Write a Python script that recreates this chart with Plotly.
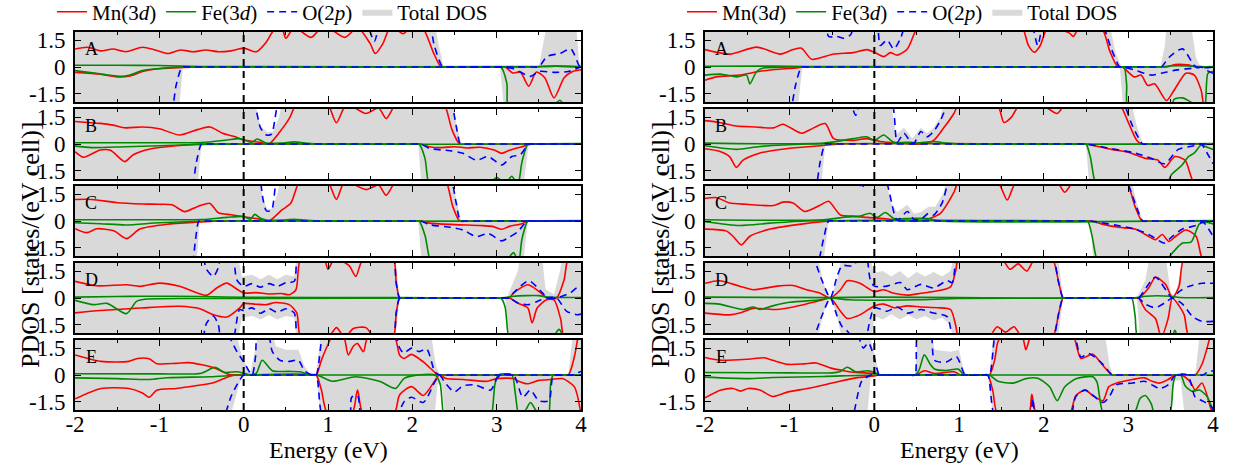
import plotly.graph_objects as go

# ---------------- data: (energy eV, PDOS) knots ----------------
# Left column
LA_mn_up = [(-2,1.0),(-1.85,1.1),(-1.7,0.9),(-1.55,1.0),(-1.4,0.85),(-1.2,1.1),(-1.05,0.95),(-0.9,0.75),(-0.75,0.95),(-0.6,0.85),(-0.45,0.95),(-0.3,0.85),(-0.15,0.9),(0,1.05),(0.15,0.85),(0.27,1.4),(0.35,2.0),(0.45,2.2),(0.5,1.6),(0.6,2.2),(0.8,1.65),(0.95,2.3),(1.2,1.65),(1.35,2.2),(1.5,1.3),(1.56,0.75),(1.65,1.3),(1.75,2.3),(1.89,1.85),(2.0,2.3),(2.12,2.2),(2.25,0.8),(2.34,0),(2.4,0),(3.4,0),(3.7,0.05),(4,0)]
LA_mn_dn = [(-2,-0.3),(-1.7,-0.4),(-1.5,-0.55),(-1.35,-0.5),(-1.2,-0.25),(-1.0,-0.1),(-0.7,-0.02),(-0.5,0),(-0.4,0),(3.02,0),(3.1,0),(3.19,-0.33),(3.28,-0.28),(3.38,-1.07),(3.47,-0.28),(3.57,-0.6),(3.68,-1.72),(3.8,-0.6),(3.9,-0.25),(4.0,-0.15)]
LA_fe_up = [(-2,0.1),(-1.5,0.1),(-1.0,0.08),(-0.5,0.02),(0,0.02),(3.4,0.02),(3.7,0.05),(4,0.02)]
LA_fe_dn = [(-2,-0.2),(-1.75,-0.35),(-1.6,-0.45),(-1.45,-0.52),(-1.35,-0.45),(-1.2,-0.2),(-1.0,-0.08),(-0.6,0),(-0.5,0),(2.98,0),(3.05,0),(3.12,-0.9),(3.15,-2.5),(3.6,-2.5),(3.75,-1.85),(3.85,-2.5),(4,-2.5)]
LA_o_up = [(-2,2.5),(1.4,2.5),(1.45,2.5),(1.55,1.43),(1.62,2.5),(1.67,2.5),(2.15,2.5),(2.2,2.5),(2.26,1.2),(2.36,0),(2.42,0),(3.44,0),(3.5,0),(3.6,0.6),(3.75,0.75),(3.88,1.0),(3.98,0.05),(4,0)]
LA_o_dn = [(-2,-2.5),(-0.92,-2.5),(-0.86,-2.5),(-0.8,-1.0),(-0.73,0),(-0.67,0),(2.99,0),(3.05,0),(3.2,-0.1),(3.4,-0.52),(3.5,-0.25),(3.7,-0.3),(3.85,-0.25),(4,0)]
LA_tot_up = [(-2,3),(2.25,3),(2.3,1.5),(2.37,0),(3.5,0),(3.55,1),(3.62,3),(3.93,3),(3.98,0.2),(4,0.2)]
LA_tot_dn = [(-2,-3),(-0.78,-3),(-0.72,0),(3.04,0),(3.1,-3),(4,-3)]

LB_mn_up = [(-2,1.25),(-1.85,1.2),(-1.7,1.15),(-1.55,1.05),(-1.4,0.9),(-1.2,0.95),(-1.0,0.85),(-0.76,0.5),(-0.55,0.8),(-0.4,0.95),(-0.25,0.6),(-0.1,0.4),(0,0.22),(0.19,0.1),(0.3,0),(0.46,0.87),(0.55,1.5),(0.62,2.2),(0.67,2.2),(0.95,2.2),(1.0,2.2),(1.1,1.18),(1.22,2.2),(1.45,1.7),(1.6,2.0),(1.69,1.42),(1.8,2.2),(1.85,2.2),(2.33,2.2),(2.38,2.2),(2.47,0.8),(2.56,0),(2.62,0),(4,0)]
LB_mn_dn = [(-2,-0.43),(-1.9,-0.74),(-1.7,-0.33),(-1.58,-0.35),(-1.41,-0.98),(-1.31,-0.6),(-1.11,-0.28),(-0.8,-0.1),(-0.5,0),(-0.4,0),(2.03,0),(2.1,0),(2.2,-0.15),(2.35,-0.2),(2.5,-0.15),(2.65,-0.22),(2.8,-0.18),(2.97,-0.33),(3.06,-0.52),(3.15,-0.35),(3.3,-0.15),(3.4,0),(3.46,0),(4,0)]
LB_fe_up = [(-2,0.07),(-1,0.07),(-0.5,0.08),(-0.2,0.22),(-0.05,0.3),(0.1,0.1),(0.16,0.28),(0.27,0.05),(0.45,0.05),(0.6,0.12),(0.8,0.02),(4,0.02)]
LB_fe_dn = [(-2,-0.12),(-1.8,-0.2),(-1.4,-0.15),(-1.0,-0.1),(-0.5,-0.02),(0,0),(2.02,0),(2.08,0),(2.15,-0.8),(2.2,-2.3),(2.25,-2.3),(2.85,-2.3),(2.9,-2.3),(3.0,-1.85),(3.1,-2.2),(3.18,-1.8),(3.25,-2.3),(3.3,-1.0),(3.37,0),(3.43,0),(4,0)]
LB_o_up = [(-2,2.5),(0.06,2.5),(0.11,2.5),(0.2,0.9),(0.27,0.5),(0.33,0.55),(0.42,2.5),(0.47,2.5),(2.4,2.5),(2.45,2.5),(2.52,1.0),(2.57,0),(2.63,0),(4,0)]
LB_o_dn = [(-2,-2.5),(-0.67,-2.5),(-0.62,-2.5),(-0.56,-1.0),(-0.5,0),(-0.44,0),(2.04,0),(2.1,0),(2.2,-0.24),(2.45,-0.38),(2.6,-0.52),(2.76,-0.9),(2.9,-0.7),(3.06,-1.17),(3.18,-0.7),(3.28,-0.6),(3.36,-0.1),(3.4,0),(3.46,0),(4,0)]
LB_tot_up = [(-2,3),(0.1,3),(0.2,1.0),(0.28,0.65),(0.35,0.7),(0.42,1.5),(0.48,3),(2.45,3),(2.52,1.2),(2.58,0),(4,0)]
LB_tot_dn = [(-2,-3),(-0.56,-3),(-0.5,0),(2.07,0),(2.12,-3),(3.3,-3),(3.38,0),(4,0)]

LC_mn_up = [(-2,1.2),(-1.8,1.2),(-1.5,1.02),(-1.2,0.95),(-1.0,0.93),(-0.85,0.9),(-0.7,0.52),(-0.55,0.8),(-0.4,0.98),(-0.3,0.46),(-0.15,0.35),(0,0.24),(0.19,0.1),(0.3,0),(0.45,0.6),(0.56,1.0),(0.66,2.2),(0.71,2.2),(0.95,2.2),(1.0,2.2),(1.1,1.2),(1.2,2.2),(1.45,1.75),(1.6,2.0),(1.69,1.43),(1.8,2.2),(1.85,2.2),(2.35,2.2),(2.4,2.2),(2.48,0.8),(2.56,0),(2.62,0),(4,0)]
LC_mn_dn = [(-2,-0.43),(-1.86,-0.65),(-1.74,-0.43),(-1.54,-0.55),(-1.39,-0.98),(-1.23,-0.45),(-0.9,-0.18),(-0.5,-0.05),(-0.2,0),(2.03,0),(2.1,0),(2.2,-0.12),(2.5,-0.2),(2.8,-0.25),(2.95,-0.3),(3.06,-0.46),(3.15,-0.3),(3.3,-0.15),(3.38,0),(3.44,0),(4,0)]
LC_fe_up = [(-2,0.07),(-1,0.07),(-0.5,0.08),(-0.2,0.2),(0,0.25),(0.08,0.1),(0.13,0.37),(0.2,0.15),(0.27,0.05),(0.45,0.05),(0.6,0.1),(0.8,0.02),(4,0.02)]
LC_fe_dn = [(-2,-0.1),(-1.7,-0.15),(-1.4,-0.22),(-1.0,-0.1),(-0.4,0),(2.02,0),(2.08,0),(2.15,-0.8),(2.22,-2.3),(2.27,-2.3),(3.05,-2.3),(3.1,-2.3),(3.2,-1.76),(3.26,-2.3),(3.3,-1.0),(3.37,0),(3.43,0),(4,0)]
LC_o_up = [(-2,2.5),(0.13,2.5),(0.18,2.5),(0.23,1.2),(0.27,0.56),(0.33,0.6),(0.4,2.5),(0.45,2.5),(2.4,2.5),(2.45,2.5),(2.52,1.0),(2.57,0),(2.63,0),(4,0)]
LC_o_dn = [(-2,-2.5),(-0.67,-2.5),(-0.62,-2.5),(-0.57,-1.0),(-0.53,0),(-0.47,0),(2.04,0),(2.1,0),(2.2,-0.2),(2.45,-0.35),(2.6,-0.5),(2.76,-0.87),(2.9,-0.7),(3.06,-1.11),(3.15,-0.9),(3.25,-0.6),(3.36,0),(3.42,0),(4,0)]
LC_tot_up = [(-2,3),(0.17,3),(0.23,1.2),(0.28,0.65),(0.34,0.7),(0.4,1.5),(0.46,3),(2.45,3),(2.52,1.2),(2.58,0),(4,0)]
LC_tot_dn = [(-2,-3),(-0.57,-3),(-0.52,0),(2.07,0),(2.12,-3),(3.3,-3),(3.37,0),(4,0)]

LD_mn_up = [(-2,0.93),(-1.74,0.68),(-1.39,0.74),(-1.23,0.65),(-1.0,0.83),(-0.76,0.65),(-0.44,0.15),(-0.32,0.56),(-0.2,0.83),(-0.07,0.46),(0,0.28),(0.15,0.3),(0.3,0.22),(0.45,0.25),(0.54,0.18),(0.62,0.46),(0.68,2.2),(0.95,2.2),(1.0,1.6),(1.08,2.2),(1.25,1.8),(1.33,1.2),(1.42,2.2),(1.77,2.2),(1.81,0.8),(1.85,0),(1.91,0),(3.09,0),(3.15,0),(3.2,0.28),(3.37,0.74),(3.5,0.37),(3.6,0),(3.71,0),(3.8,1.02),(3.85,2.2),(4,2.5)]
LD_mn_dn = [(-2,-0.83),(-1.7,-0.7),(-1.23,-0.56),(-0.76,-0.46),(-0.52,-0.6),(-0.36,-0.93),(-0.2,-1.06),(-0.05,-0.56),(0,-0.31),(0.15,-0.35),(0.27,-0.37),(0.38,-0.25),(0.54,-0.37),(0.63,-0.83),(0.68,-2.2),(1.0,-2.2),(1.1,-1.65),(1.2,-2.2),(1.3,-1.7),(1.45,-1.65),(1.55,-2.2),(1.77,-2.2),(1.81,-0.8),(1.85,0),(1.91,0),(3.09,0),(3.15,0),(3.26,-0.31),(3.37,-0.56),(3.42,-1.39),(3.48,-0.56),(3.59,-0.1),(3.68,-0.1),(3.76,-1.2),(3.8,-2.2),(4,-2.5)]
LD_fe_up = [(-2,0.05),(-1.5,0.08),(-1.2,0.1),(-0.5,0.08),(0,0.04),(1.85,0.02),(3.1,0.02),(3.2,0.1),(3.5,0.13),(3.6,0.05),(4,0.03)]
LD_fe_dn = [(-2,-0.13),(-1.78,-0.37),(-1.62,-0.3),(-1.39,-0.87),(-1.27,-0.19),(-1.15,-0.06),(-0.5,-0.03),(0,-0.02),(2.98,0),(3.05,0),(3.1,-0.5),(3.15,-2.3),(3.2,-2.3),(3.6,-2.3),(3.65,-2.3),(3.74,-1.75),(3.82,-2.3),(4,-2.3)]
LD_o_up = [(-2,2.5),(-0.55,2.5),(-0.5,2.5),(-0.44,1.6),(-0.36,1.2),(-0.3,1.7),(-0.26,2.5),(-0.14,2.5),(-0.08,1.0),(0,0.65),(0.1,0.8),(0.2,0.6),(0.3,0.8),(0.4,0.65),(0.5,0.85),(0.6,0.93),(0.64,2.5),(0.69,2.5),(1.72,2.5),(1.77,2.5),(1.81,0.8),(1.85,0),(1.91,0),(3.09,0),(3.15,0),(3.2,0.28),(3.38,0.96),(3.54,0.3),(3.6,0),(3.71,0),(3.87,0.28),(3.95,0.56),(4,0.5)]
LD_o_dn = [(-2,-2.5),(-0.55,-2.5),(-0.5,-2.5),(-0.44,-1.4),(-0.36,-1.0),(-0.3,-1.5),(-0.26,-2.5),(-0.14,-2.5),(-0.05,-0.65),(0,-0.7),(0.1,-0.55),(0.2,-0.85),(0.3,-0.6),(0.4,-0.8),(0.5,-0.6),(0.6,-0.83),(0.64,-2.5),(0.69,-2.5),(1.72,-2.5),(1.77,-2.5),(1.81,-0.8),(1.85,0),(1.91,0),(3.09,0),(3.15,0),(3.26,-0.3),(3.38,-0.37),(3.48,-0.2),(3.58,0),(3.71,0),(3.83,-0.74),(3.95,-0.93),(4,-0.9)]
LD_tot_up = [(-2,3),(-0.1,3),(-0.02,1.2),(0.1,1.3),(0.2,1.05),(0.3,1.3),(0.4,1.05),(0.5,1.3),(0.6,1.2),(0.64,3),(1.78,3),(1.85,0),(3.12,0),(3.25,1.5),(3.3,3),(3.52,3),(3.58,0.5),(3.68,0.2),(3.75,1.5),(3.8,3),(4,3)]
LD_tot_dn = [(-2,-3),(-0.1,-3),(-0.02,-1.1),(0.1,-1.0),(0.2,-1.2),(0.3,-0.95),(0.4,-1.2),(0.5,-1.0),(0.6,-1.1),(0.64,-3),(1.78,-3),(1.85,0),(3.1,0),(3.16,-3),(4,-3)]

LE_mn_up = [(-2,1.12),(-1.69,0.76),(-1.36,0.76),(-1.26,0.92),(-1.12,0.9),(-1.03,0.63),(-0.8,0.65),(-0.65,0.69),(-0.37,0.43),(-0.18,0.04),(-0.1,0),(-0.04,0),(0.8,0),(0.86,0),(0.92,0.8),(1.0,1.7),(1.06,2.2),(1.18,2.2),(1.24,1.12),(1.3,1.6),(1.35,1.75),(1.42,1.3),(1.48,2.2),(1.78,2.2),(1.85,1.1),(1.9,0.92),(1.99,1.15),(2.13,0.73),(2.27,0.14),(2.32,0),(2.38,0),(3.79,0),(3.85,0),(3.88,0.3),(3.93,1.2),(3.97,2.2),(4,2.5)]
LE_mn_dn = [(-2,-1.33),(-1.69,-0.75),(-1.36,-0.75),(-1.2,-1.0),(-1.12,-1.24),(-1.03,-0.85),(-0.8,-0.75),(-0.65,-0.65),(-0.37,-0.45),(-0.18,-0.1),(-0.1,0),(-0.04,0),(0.8,0),(0.86,0),(0.92,-0.8),(1.0,-2.2),(1.28,-2.2),(1.35,-0.84),(1.42,-2.2),(1.78,-2.2),(1.85,-1.1),(1.99,-0.65),(2.13,-1.14),(2.27,-0.3),(2.32,0),(2.4,-0.2),(2.6,-0.25),(2.89,-0.35),(3.0,-0.2),(3.2,-0.2),(3.26,-0.35),(3.36,-0.49),(3.5,-0.3),(3.64,-0.25),(3.78,-0.2),(3.92,-0.65),(4,-2.2)]
LE_fe_up = [(-2,0.07),(-1.0,0.06),(-0.5,0.1),(-0.34,0.43),(-0.23,0.15),(-0.08,0.18),(0,0.1),(0.08,0),(0.15,0.1),(0.22,0.82),(0.34,0.24),(0.53,0.2),(0.67,0.18),(0.78,0),(0.84,0),(4,0)]
LE_fe_dn = [(-2,-0.16),(-1.5,-0.2),(-1.12,-0.25),(-0.9,-0.15),(-0.4,-0.1),(0,0),(0.86,0),(1.05,-0.35),(1.33,-0.1),(1.61,-0.35),(1.8,-0.75),(1.9,-0.2),(2.0,-0.05),(2.27,0),(2.33,-0.5),(2.38,-2.4),(2.43,-2.4),(2.88,-2.4),(2.93,-2.4),(2.98,-0.5),(3.02,0),(3.18,0),(3.22,-1.0),(3.27,-2.4),(3.35,-1.9),(3.4,-1.53),(3.47,-2.0),(3.55,-2.4),(3.61,-2.4),(3.64,-0.5),(3.67,0),(3.73,0),(4,0)]
LE_o_up = [(-2,2.5),(-0.27,2.5),(-0.22,2.5),(-0.08,1.3),(0,0.73),(0.1,0),(0.14,1.0),(0.17,2.5),(0.28,2.5),(0.34,1.3),(0.43,0.82),(0.53,0.75),(0.65,0.82),(0.72,0.24),(0.81,0),(0.86,0),(0.95,2.5),(1.0,2.5),(1.73,2.5),(1.78,2.5),(1.85,1.5),(1.9,1.22),(1.99,1.5),(2.08,1.3),(2.17,1.45),(2.27,0.14),(2.32,0),(2.38,0),(3.84,0),(3.9,0),(3.97,0.14),(4,0.2)]
LE_o_dn = [(-2,-2.5),(-0.3,-2.5),(-0.25,-2.5),(-0.15,-1.2),(-0.05,-0.3),(0,0),(0.06,0),(0.8,0),(0.86,0),(0.95,-2.5),(1.25,-2.5),(1.28,-1.24),(1.35,-1.15),(1.4,-2.5),(1.45,-2.5),(1.75,-2.5),(1.8,-2.5),(1.9,-1.5),(1.99,-1.24),(2.13,-1.53),(2.27,-0.35),(2.32,0),(2.4,-0.5),(2.5,-0.94),(2.6,-0.6),(2.74,-0.55),(2.93,-0.84),(3.0,-0.2),(3.05,0),(3.2,0),(3.31,-1.24),(3.4,-0.84),(3.5,-1.43),(3.62,-1.43),(3.66,-0.2),(3.7,0),(3.76,0),(4,0)]
LE_tot_up = [(-2,3),(-0.12,3),(-0.02,1.0),(0.08,0.1),(0.14,1.5),(0.2,3),(0.3,3),(0.38,1.6),(0.5,1.4),(0.65,1.4),(0.72,0.5),(0.8,0),(0.86,0),(0.93,3),(2.2,3),(2.28,0.5),(2.33,0),(3.85,0),(3.92,3),(4,3)]
LE_tot_dn = [(-2,-3),(-0.2,-3),(-0.05,-0.5),(0,0),(0.86,0),(0.93,-3),(2.25,-3),(2.3,-0.5),(2.35,-0.6),(2.4,-3),(4,-3)]

# Right column
RA_mn_up = [(-2,0.97),(-1.71,0.72),(-1.39,1.11),(-1.11,0.72),(-0.96,0.97),(-0.86,1.05),(-0.74,0.43),(-0.48,0.72),(-0.25,0.8),(-0.09,0.97),(0,0.82),(0.11,0.58),(0.19,0.8),(0.27,0.66),(0.39,1.0),(0.51,2.2),(0.56,2.2),(1.7,2.2),(1.75,2.2),(1.82,1.2),(1.89,0.82),(1.96,1.2),(2.05,2.2),(2.3,1.9),(2.35,1.7),(2.42,2.2),(2.68,2.2),(2.78,0.9),(2.86,0.1),(2.9,0),(2.96,0),(3.39,0),(3.45,0),(3.55,0.14),(3.7,0.12),(3.8,0),(4,0)]
RA_mn_dn = [(-2,-0.74),(-1.87,-0.55),(-1.6,-0.45),(-1.31,-0.21),(-0.96,-0.06),(-0.8,0),(-0.7,0),(2.87,0),(2.93,0),(3.07,-0.55),(3.15,-0.45),(3.23,-1.03),(3.31,-0.94),(3.45,-1.87),(3.54,-1.3),(3.68,-0.35),(3.78,-0.45),(3.86,-1.3),(3.9,-2.2),(4,-2.3)]
RA_fe_up = [(-2,0.04),(-1.2,0.05),(-0.8,0.02),(0,0.02),(3.4,0.02),(3.5,0.06),(3.7,0.06),(3.85,0.02),(4,0.02)]
RA_fe_dn = [(-2,-0.45),(-1.8,-0.4),(-1.63,-0.55),(-1.51,-0.45),(-1.47,-0.94),(-1.39,-0.25),(-1.31,-0.06),(-1.0,0),(2.9,0),(2.95,0),(2.98,-1.0),(3.0,-2.3),(3.5,-2.3),(3.54,-1.8),(3.64,-1.72),(3.72,-1.9),(3.85,-2.3),(3.9,-2.3),(3.94,-0.35),(4,-0.25)]
RA_o_up = [(-2,2.5),(-0.63,2.5),(-0.58,2.5),(-0.54,1.7),(-0.44,1.7),(-0.36,1.6),(-0.28,1.8),(-0.22,2.5),(0.02,2.5),(0.07,1.2),(0.15,1.5),(0.23,1.0),(0.31,1.6),(0.38,2.5),(0.43,2.5),(1.8,2.5),(1.85,2.5),(1.93,1.2),(2.0,2.5),(2.05,2.5),(2.63,2.5),(2.68,2.5),(2.8,1.0),(2.9,0),(2.96,0),(3.33,0),(3.39,0),(3.48,0.53),(3.64,1.01),(3.8,0),(4,0)]
RA_o_dn = [(-2,-2.5),(-1.05,-2.5),(-1.0,-2.5),(-0.93,-1.0),(-0.86,0),(-0.8,0),(2.87,0),(2.93,0),(3.07,-0.16),(3.27,-0.45),(3.39,-0.35),(3.58,-0.16),(3.8,-0.05),(3.86,0),(3.93,-0.2),(4,-0.35)]
RA_tot_up = [(-2,3),(2.75,3),(2.85,0.8),(2.92,0),(3.38,0),(3.43,1.2),(3.47,3),(3.72,3),(3.8,0.5),(3.85,0),(4,0)]
RA_tot_dn = [(-2,-3),(-0.92,-3),(-0.85,0),(2.9,0),(2.95,-3),(4,-3)]

RB_mn_up = [(-2,1.3),(-1.83,1.2),(-1.63,1.0),(-1.4,0.95),(-1.19,0.9),(-1.08,1.1),(-0.86,0.6),(-0.76,0.8),(-0.58,1.14),(-0.48,0.3),(-0.25,0.2),(-0.09,0.3),(0.07,0.14),(0.27,0.06),(0.55,0),(0.7,0.2),(0.82,0.9),(0.94,1.7),(1.0,2.2),(1.45,2.2),(1.53,1.2),(1.62,1.5),(1.72,2.2),(1.97,2.2),(2.16,1.7),(2.25,2.2),(2.3,2.2),(2.85,2.2),(2.9,2.2),(3.0,1.2),(3.1,0.2),(3.16,0),(3.22,0),(4,0)]
RB_mn_dn = [(-2,-0.26),(-1.83,-0.4),(-1.71,-0.7),(-1.63,-1.3),(-1.55,-0.9),(-1.35,-0.5),(-1.04,-0.26),(-0.64,-0.1),(-0.4,0),(2.43,0),(2.5,0),(2.8,-0.3),(3.0,-0.46),(3.2,-0.8),(3.35,-0.9),(3.43,-1.3),(3.55,-0.7),(3.67,-0.9),(3.78,-2.2),(4,-2.5)]
RB_fe_up = [(-2,0.05),(-0.6,0.05),(-0.25,0.3),(-0.09,0.4),(0,0.2),(0.11,0.5),(0.23,0.1),(0.43,0.1),(0.5,0.05),(0.7,0.14),(0.85,0.05),(1.0,0),(4,0.02)]
RB_fe_dn = [(-2,-0.1),(-1.63,-0.3),(-1.35,-0.14),(-0.8,0),(2.45,0),(2.5,0),(2.55,-0.7),(2.62,-2.3),(2.67,-2.3),(3.4,-2.3),(3.45,-2.3),(3.51,-1.7),(3.63,-1.2),(3.71,-0.7),(3.78,-0.5),(3.86,-0.06),(3.94,-0.2),(4,-0.3)]
RB_o_up = [(-2,2.5),(-0.35,2.5),(-0.3,2.5),(-0.22,1.6),(-0.15,2.5),(0.19,2.5),(0.27,0.1),(0.35,0.6),(0.43,0.1),(0.47,0.05),(0.55,0.7),(0.62,0.4),(0.7,0.7),(0.78,1.3),(0.9,2.5),(0.95,2.5),(2.87,2.5),(2.92,2.5),(3.05,1.0),(3.17,0),(3.23,0),(4,0)]
RB_o_dn = [(-2,-2.5),(-0.75,-2.5),(-0.7,-2.5),(-0.64,-1.0),(-0.58,0),(-0.52,0),(2.44,0),(2.5,0),(2.8,-0.26),(3.08,-0.5),(3.27,-0.8),(3.43,-1.1),(3.59,-0.3),(3.78,-0.1),(3.86,0),(3.93,-0.5),(4,-1.1)]
RB_tot_up = [(-2,3),(0.18,3),(0.25,0.5),(0.35,0.9),(0.45,0.3),(0.55,0.9),(0.62,0.6),(0.7,0.9),(0.78,1.5),(0.85,3),(3.0,3),(3.1,1.0),(3.17,0),(4,0)]
RB_tot_dn = [(-2,-3),(-0.64,-3),(-0.58,0),(2.5,0),(2.55,-3),(4,-3)]

RC_mn_up = [(-2,1.25),(-1.86,1.3),(-1.71,1.0),(-1.51,0.93),(-1.19,0.86),(-1.08,1.05),(-0.96,1.0),(-0.82,0.53),(-0.64,0.88),(-0.54,1.1),(-0.4,0.33),(-0.25,0.27),(-0.09,0.2),(0.11,0.14),(0.27,0.05),(0.55,0),(0.78,0.43),(0.94,1.6),(1.0,2.2),(1.45,2.2),(1.57,1.17),(1.68,2.2),(2.15,2.2),(2.25,1.6),(2.35,2.2),(2.4,2.2),(2.93,2.2),(2.98,2.2),(3.08,0.8),(3.16,0),(3.22,0),(4,0)]
RC_mn_dn = [(-2,-0.45),(-1.75,-0.55),(-1.67,-0.85),(-1.57,-1.33),(-1.47,-0.85),(-1.23,-0.45),(-0.84,-0.16),(-0.5,0),(2.5,0),(2.56,0),(2.68,-0.16),(2.88,-0.35),(3.08,-0.45),(3.2,-0.75),(3.32,-1.04),(3.4,-0.75),(3.48,-1.14),(3.56,-0.85),(3.68,-0.5),(3.8,-0.85),(3.88,-2.2),(4,-2.5)]
RC_fe_up = [(-2,0.07),(-0.6,0.07),(-0.32,0.23),(-0.17,0.27),(-0.05,0.43),(0.03,0.2),(0.13,0.47),(0.23,0.14),(0.43,0.14),(0.63,0.14),(0.78,0),(4,0.02)]
RC_fe_dn = [(-2,-0.04),(-1.59,-0.25),(-1.23,-0.12),(-0.8,0),(2.47,0),(2.52,0),(2.57,-0.8),(2.64,-2.3),(2.69,-2.3),(3.4,-2.3),(3.45,-2.3),(3.5,-1.9),(3.64,-1.23),(3.74,-1.18),(3.84,-0.16),(3.92,-0.06),(4,-0.16)]
RC_o_up = [(-2,2.5),(-0.25,2.5),(-0.2,2.5),(-0.15,1.8),(-0.08,2.5),(0.11,2.5),(0.27,0.04),(0.39,0.53),(0.47,0.08),(0.55,0.1),(0.64,0.43),(0.7,0.33),(0.8,1.0),(0.9,2.5),(0.95,2.5),(2.9,2.5),(2.95,2.5),(3.08,1.0),(3.17,0),(3.23,0),(4,0)]
RC_o_dn = [(-2,-2.5),(-0.73,-2.5),(-0.68,-2.5),(-0.6,-1.0),(-0.54,0),(-0.48,0),(2.5,0),(2.56,0),(2.76,-0.16),(3.08,-0.45),(3.24,-0.75),(3.43,-1.23),(3.5,-0.94),(3.64,-0.45),(3.8,-0.25),(3.88,-0.06),(4,-0.85)]
RC_tot_up = [(-2,3),(0.1,3),(0.2,1.0),(0.27,0.5),(0.39,0.9),(0.47,0.4),(0.55,0.5),(0.64,0.8),(0.72,0.8),(0.82,1.6),(0.88,3),(3.0,3),(3.1,1.0),(3.17,0),(4,0)]
RC_tot_dn = [(-2,-3),(-0.62,-3),(-0.54,0),(2.55,0),(2.6,-3),(4,-3)]

RD_mn_up = [(-2,0.82),(-1.83,0.96),(-1.59,0.66),(-1.43,0.46),(-1.15,0.66),(-0.96,0.7),(-0.8,0.46),(-0.64,0.26),(-0.52,0),(-0.4,0.46),(-0.32,0.96),(-0.17,0.82),(0,0.36),(0.11,0.46),(0.23,0.26),(0.39,0.16),(0.55,0.26),(0.7,0.36),(0.9,0.62),(0.96,1.5),(1.0,2.2),(1.5,2.2),(1.6,1.6),(1.7,1.9),(1.8,1.5),(1.9,2.2),(2.1,2.2),(2.18,0.8),(2.23,0),(2.29,0),(3.06,0),(3.12,0),(3.24,0.56),(3.32,1.16),(3.44,0.76),(3.52,0),(3.6,0.66),(3.66,2.2),(4,2.5)]
RD_mn_dn = [(-2,-0.84),(-1.71,-0.94),(-1.59,-0.84),(-1.43,-0.58),(-1.15,-0.64),(-0.96,-0.5),(-0.64,-0.14),(-0.52,0),(-0.4,-0.74),(-0.32,-1.14),(-0.17,-0.94),(0,-0.44),(0.11,-0.34),(0.23,-0.54),(0.39,-0.44),(0.55,-0.5),(0.75,-0.54),(0.9,-0.64),(0.96,-1.5),(1.0,-2.2),(1.35,-2.2),(1.45,-1.6),(1.55,-1.9),(1.65,-1.6),(1.75,-2.2),(2.1,-2.2),(2.18,-0.8),(2.23,0),(2.29,0),(3.06,0),(3.12,0),(3.2,-0.64),(3.32,-1.14),(3.39,-2.2),(3.47,-1.14),(3.52,0),(3.6,-0.44),(3.66,-0.94),(3.72,-2.2),(4,-2.5)]
RD_fe_up = [(-2,0.05),(-0.52,0.02),(0,0.05),(1.0,0.02),(3.1,0.02),(3.2,0.1),(3.5,0.1),(3.6,0.03),(4,0.02)]
RD_fe_dn = [(-2,-0.3),(-1.83,-0.34),(-1.55,-0.64),(-1.43,-0.5),(-1.35,-0.64),(-1.2,-0.44),(-1.0,-0.24),(-0.64,-0.1),(-0.52,0),(-0.3,-0.1),(0.5,-0.1),(1.0,-0.03),(2.98,0),(3.04,0),(3.08,-1.0),(3.12,-2.3),(3.5,-2.3),(3.55,-1.8),(3.6,-2.3),(4,-2.3)]
RD_o_up = [(-2,2.5),(-0.8,2.5),(-0.75,2.5),(-0.62,1.0),(-0.52,0),(-0.44,1.2),(-0.38,1.8),(-0.25,1.8),(-0.15,2.5),(-0.1,2.5),(-0.05,1.06),(0,0.66),(0.15,0.66),(0.31,0.86),(0.39,0.46),(0.55,0.76),(0.7,0.56),(0.86,0.96),(0.92,0.86),(0.98,2.5),(1.03,2.5),(2.05,2.5),(2.1,2.5),(2.18,0.8),(2.23,0),(2.29,0),(3.06,0),(3.12,0),(3.32,1.16),(3.52,0),(3.6,0.36),(3.72,0.66),(3.87,0.82),(4,0.82)]
RD_o_dn = [(-2,-2.5),(-0.8,-2.5),(-0.75,-2.5),(-0.62,-1.0),(-0.52,0),(-0.44,-1.0),(-0.38,-1.6),(-0.32,-1.84),(-0.2,-2.5),(-0.12,-2.5),(-0.05,-1.2),(0,-0.54),(0.15,-0.74),(0.27,-0.5),(0.39,-0.84),(0.55,-0.64),(0.7,-0.84),(0.86,-1.04),(0.94,-2.5),(0.99,-2.5),(2.05,-2.5),(2.1,-2.5),(2.18,-0.8),(2.23,0),(2.29,0),(3.06,0),(3.12,0),(3.2,-0.34),(3.32,-0.54),(3.44,-0.24),(3.52,0),(3.64,-0.34),(3.76,-1.04),(3.87,-1.3),(4,-1.3)]
RD_tot_up = [(-2,3),(-0.7,3),(-0.6,0.8),(-0.52,0.05),(-0.45,0.8),(-0.35,3),(-0.1,3),(0,1.4),(0.1,1.5),(0.2,1.2),(0.3,1.5),(0.4,1.1),(0.5,1.45),(0.6,1.2),(0.7,1.45),(0.8,1.2),(0.9,1.5),(0.97,3),(2.15,3),(2.23,0),(3.1,0),(3.2,1.0),(3.28,3),(3.42,3),(3.5,0.3),(3.55,0.1),(3.62,1.5),(3.7,3),(4,3)]
RD_tot_dn = [(-2,-3),(-0.7,-3),(-0.6,-0.8),(-0.52,-0.05),(-0.45,-0.8),(-0.35,-3),(-0.05,-3),(0,-1.0),(0.1,-1.2),(0.2,-0.9),(0.3,-1.2),(0.4,-0.95),(0.5,-1.2),(0.6,-1.0),(0.7,-1.25),(0.8,-1.1),(0.9,-1.5),(0.96,-3),(2.15,-3),(2.23,0),(3.1,0),(3.15,-3),(4,-3)]

RE_mn_up = [(-2,0.98),(-1.81,0.82),(-1.49,0.88),(-1.3,0.96),(-1.2,0.82),(-1.02,0.59),(-0.83,0.62),(-0.69,0.67),(-0.5,0.37),(-0.36,0.24),(-0.22,0.14),(0,0.08),(0.05,0),(0.1,0),(0.43,0),(0.48,0),(0.53,0.1),(0.59,0.24),(0.71,0.08),(0.94,0.18),(1.02,0),(1.07,0),(1.31,0),(1.36,0),(1.42,0.8),(1.46,1.85),(1.52,2.2),(1.74,2.2),(1.79,1.41),(1.85,2.2),(1.9,2.2),(2.3,2.2),(2.35,2.2),(2.44,0.92),(2.58,1.16),(2.7,0.53),(2.81,0),(2.87,0),(3.73,0),(3.79,0),(3.87,0.6),(3.93,1.5),(3.97,2.2),(4,2.5)]
RE_mn_dn = [(-2,-1.27),(-1.81,-0.84),(-1.67,-0.75),(-1.58,-0.9),(-1.49,-0.75),(-1.35,-0.84),(-1.2,-1.2),(-1.02,-0.94),(-0.79,-0.75),(-0.5,-0.45),(-0.22,-0.16),(0,-0.05),(0.05,0),(0.11,0),(1.28,0),(1.34,0),(1.4,-0.9),(1.46,-2.2),(1.82,-2.2),(1.86,-1.08),(1.92,-2.2),(2.3,-2.2),(2.38,-1.14),(2.49,-0.84),(2.58,-1.14),(2.7,-1.43),(2.77,-0.65),(2.86,-0.45),(3.05,-0.25),(3.19,-0.16),(3.28,-0.35),(3.37,-0.45),(3.47,-0.25),(3.56,0),(3.65,-0.06),(3.74,-0.45),(3.79,-0.84),(3.87,-0.45),(3.97,-1.8),(4,-2.2)]
RE_fe_up = [(-2,0.14),(-1.0,0.12),(-0.5,0.12),(-0.41,0.18),(-0.32,0.43),(-0.22,0.18),(-0.08,0.24),(0,0.15),(0.06,0),(0.12,0),(0.42,0),(0.48,0),(0.53,0.3),(0.59,1.12),(0.66,0.6),(0.71,0.33),(0.85,0.25),(0.99,0.33),(1.06,0),(1.12,0),(4,0)]
RE_fe_dn = [(-2,-0.12),(-1.49,-0.2),(-1.2,-0.14),(-0.6,-0.08),(0,0),(1.3,0),(1.36,0),(1.46,-0.35),(1.64,-0.45),(1.79,-0.2),(1.93,-0.18),(2.07,-0.65),(2.16,-1.43),(2.25,-0.65),(2.39,-0.2),(2.58,-0.1),(2.63,-0.4),(2.72,-2.3),(3.05,-2.3),(3.14,-1.3),(3.2,-1.14),(3.27,-1.6),(3.32,-2.3),(3.48,-2.3),(3.53,-0.5),(3.56,0),(3.62,0),(3.67,-0.6),(3.75,-0.9),(3.84,-0.84),(3.93,-1.2),(4,-2.0)]
RE_o_up = [(-2,2.5),(-0.27,2.5),(-0.22,2.5),(-0.13,1.5),(-0.07,1.8),(-0.01,1.12),(0.06,0),(0.12,0),(0.42,0),(0.48,0),(0.52,2.5),(0.66,2.5),(0.71,0.82),(0.85,0.72),(0.97,1.02),(1.06,0.1),(1.1,0),(1.31,0),(1.36,0),(1.44,2.5),(1.49,2.5),(2.3,2.5),(2.35,2.5),(2.44,1.0),(2.53,1.2),(2.7,0.6),(2.81,0),(2.87,0),(3.82,0),(3.88,0),(3.93,0.14),(4,0.24)]
RE_o_dn = [(-2,-2.5),(-0.32,-2.5),(-0.27,-2.5),(-0.15,-0.35),(-0.04,0),(0.02,0),(1.28,0),(1.34,0),(1.44,-2.5),(1.83,-2.5),(1.87,-1.3),(1.92,-2.5),(2.3,-2.5),(2.38,-1.2),(2.49,-0.84),(2.7,-1.53),(2.77,-1.24),(2.86,-0.55),(3.05,-0.45),(3.19,-0.35),(3.28,-0.55),(3.37,-0.75),(3.47,-0.55),(3.56,0),(3.7,0),(3.79,-1.24),(3.87,-1.43),(3.97,-1.7),(4,-1.9)]
RE_tot_up = [(-2,3),(-0.1,3),(0.0,1.2),(0.06,0),(0.48,0),(0.52,3),(0.66,3),(0.71,1.4),(0.9,1.3),(1.0,1.4),(1.06,0.2),(1.1,0),(1.36,0),(1.42,3),(2.7,3),(2.78,0.5),(2.82,0),(3.79,0),(3.86,3),(4,3)]
RE_tot_dn = [(-2,-3),(-0.1,-3),(-0.04,0),(1.34,0),(1.42,-3),(3.48,-3),(3.54,-0.3),(3.62,-0.3),(3.68,-3),(4,-3)]

PANEL_LABELS = ["A", "B", "C", "D", "E"]
X_TICKS = [-2, -1, 0, 1, 2, 3, 4]
Y_TICKS = [-1.5, 0, 1.5]
Y_TICKTEXT = ["-1.5", "0", "1.5"]
LEGEND_NAMES = ["Mn(3<i>d</i>)", "Fe(3<i>d</i>)", "O(2<i>p</i>)", "Total DOS"]

PANELS = [
    (LA_mn_up, LA_mn_dn, LA_fe_up, LA_fe_dn, LA_o_up, LA_o_dn, LA_tot_up, LA_tot_dn),
    (LB_mn_up, LB_mn_dn, LB_fe_up, LB_fe_dn, LB_o_up, LB_o_dn, LB_tot_up, LB_tot_dn),
    (LC_mn_up, LC_mn_dn, LC_fe_up, LC_fe_dn, LC_o_up, LC_o_dn, LC_tot_up, LC_tot_dn),
    (LD_mn_up, LD_mn_dn, LD_fe_up, LD_fe_dn, LD_o_up, LD_o_dn, LD_tot_up, LD_tot_dn),
    (LE_mn_up, LE_mn_dn, LE_fe_up, LE_fe_dn, LE_o_up, LE_o_dn, LE_tot_up, LE_tot_dn),
    (RA_mn_up, RA_mn_dn, RA_fe_up, RA_fe_dn, RA_o_up, RA_o_dn, RA_tot_up, RA_tot_dn),
    (RB_mn_up, RB_mn_dn, RB_fe_up, RB_fe_dn, RB_o_up, RB_o_dn, RB_tot_up, RB_tot_dn),
    (RC_mn_up, RC_mn_dn, RC_fe_up, RC_fe_dn, RC_o_up, RC_o_dn, RC_tot_up, RC_tot_dn),
    (RD_mn_up, RD_mn_dn, RD_fe_up, RD_fe_dn, RD_o_up, RD_o_dn, RD_tot_up, RD_tot_dn),
    (RE_mn_up, RE_mn_dn, RE_fe_up, RE_fe_dn, RE_o_up, RE_o_dn, RE_tot_up, RE_tot_dn),
]

# ---------------- style / layout ----------------
W, H = 1237, 465
FONT = "Liberation Serif"
RED, GREEN, BLUE, GREY = "#ff0000", "#008a00", "#0000ff", "#d9d9d9"
COL_X = [(75, 581), (705, 1213)]          # px
ROW_Y = [(32, 102), (109, 179), (186, 256), (263, 333), (340, 410)]  # px (top, bottom)


def xy(pairs):
    return [p[0] for p in pairs], [p[1] for p in pairs]


fig = go.Figure()
layout = dict(width=W, height=H, margin=dict(l=0, r=0, t=0, b=0, autoexpand=False),
              plot_bgcolor="white", paper_bgcolor="white",
              font=dict(family=FONT, size=22, color="black"),
              showlegend=True)
annotations = []
shapes = []

for k, data in enumerate(PANELS):
    col, row = divmod(k, 5)
    suffix = "" if k == 0 else str(k + 1)
    xa, ya = f"x{suffix}", f"y{suffix}"
    legend = "legend" if col == 0 else "legend2"
    mn_up, mn_dn, fe_up, fe_dn, o_up, o_dn, tot_up, tot_dn = data
    first = (row == 0)

    for j, tot in enumerate((tot_up, tot_dn)):
        x, y = xy(tot)
        fig.add_trace(go.Scatter(x=x, y=y, xaxis=xa, yaxis=ya, mode="lines",
                                 fill="tozeroy", fillcolor=GREY,
                                 line=dict(width=0, color=GREY),
                                 name=LEGEND_NAMES[3], legend=legend, legendrank=4,
                                 legendgroup=f"tot{col}", showlegend=(first and j == 0),
                                 hoverinfo="skip"))
    specs = [((mn_up, mn_dn), RED, None, 0),
             ((fe_up, fe_dn), GREEN, None, 1),
             ((o_up, o_dn), BLUE, "7px,5px", 2)]
    for (up, dn), color, dash, li in specs:
        for j, s in enumerate((up, dn)):
            x, y = xy(s)
            fig.add_trace(go.Scatter(x=x, y=y, xaxis=xa, yaxis=ya, mode="lines",
                                     line=dict(color=color, width=1.6, dash=dash,
                                               shape="spline", smoothing=0.7),
                                     name=LEGEND_NAMES[li], legend=legend, legendrank=li + 1,
                                     legendgroup=f"s{li}{col}", showlegend=(first and j == 0),
                                     hoverinfo="skip"))

    x0, x1 = COL_X[col]
    top, bot = ROW_Y[row]
    bottom_row = (row == 4)
    layout[f"xaxis{suffix}"] = dict(domain=[x0 / W, x1 / W], anchor=ya, range=[-2, 4],
                                    showline=True, linecolor="black", linewidth=2, mirror="ticks",
                                    ticks="inside", ticklen=6, tickwidth=1, tickcolor="black",
                                    tickvals=X_TICKS, ticktext=[str(v) for v in X_TICKS],
                                    minor=dict(ticks="inside", ticklen=3, tickcolor="black",
                                               tickwidth=1, dtick=0.5, tick0=-2, showgrid=False),
                                    showticklabels=bottom_row, ticklabelstandoff=-8,
                                    showgrid=False, zeroline=False,
                                    automargin=False, tickfont=dict(family=FONT, size=23))
    layout[f"yaxis{suffix}"] = dict(domain=[1 - bot / H, 1 - top / H], anchor=xa, range=[-1.95, 1.95],
                                    showline=True, linecolor="black", linewidth=2, mirror="ticks",
                                    ticks="inside", ticklen=6, tickwidth=1, tickcolor="black",
                                    tickvals=Y_TICKS, ticktext=Y_TICKTEXT, ticklabelstandoff=3,
                                    showgrid=False, zeroline=False, automargin=False,
                                    tickfont=dict(family=FONT, size=23))
    annotations.append(dict(x=-1.81, y=1.0, xref=xa, yref=ya, text=PANEL_LABELS[row],
                            xanchor="center", yanchor="middle",
                            showarrow=False, font=dict(family=FONT, size=18)))
    shapes.append(dict(type="line", xref=xa, yref=f"{ya} domain", x0=0, x1=0, y0=0, y1=1,
                       line=dict(color="black", width=2, dash="7px,5px")))

for col in range(2):
    x0, x1 = COL_X[col]
    annotations.append(dict(x=((x0 + x1) / 2) / W, y=1 - 450 / H, xref="paper", yref="paper",
                            xanchor="center", yanchor="middle",
                            text="Energy (eV)", showarrow=False,
                            font=dict(family=FONT, size=24)))
    annotations.append(dict(x=(30 if col == 0 else 660) / W, y=1 - 245 / H, xref="paper",
                            yref="paper", xanchor="center", yanchor="middle",
                            text="PDOS [states/(eV cell)]", textangle=-90,
                            showarrow=False, font=dict(family=FONT, size=26)))

leg_common = dict(orientation="h", yanchor="top", y=1.018, xanchor="left",
                  bgcolor="rgba(0,0,0,0)", font=dict(family=FONT, size=21),
                  itemwidth=30, tracegroupgap=0, traceorder="normal")
layout["legend"] = dict(x=52 / W, **leg_common)
layout["legend2"] = dict(x=682 / W, **leg_common)
layout["annotations"] = annotations
layout["shapes"] = shapes
fig.update_layout(**layout)

fig.write_html("out.html")
